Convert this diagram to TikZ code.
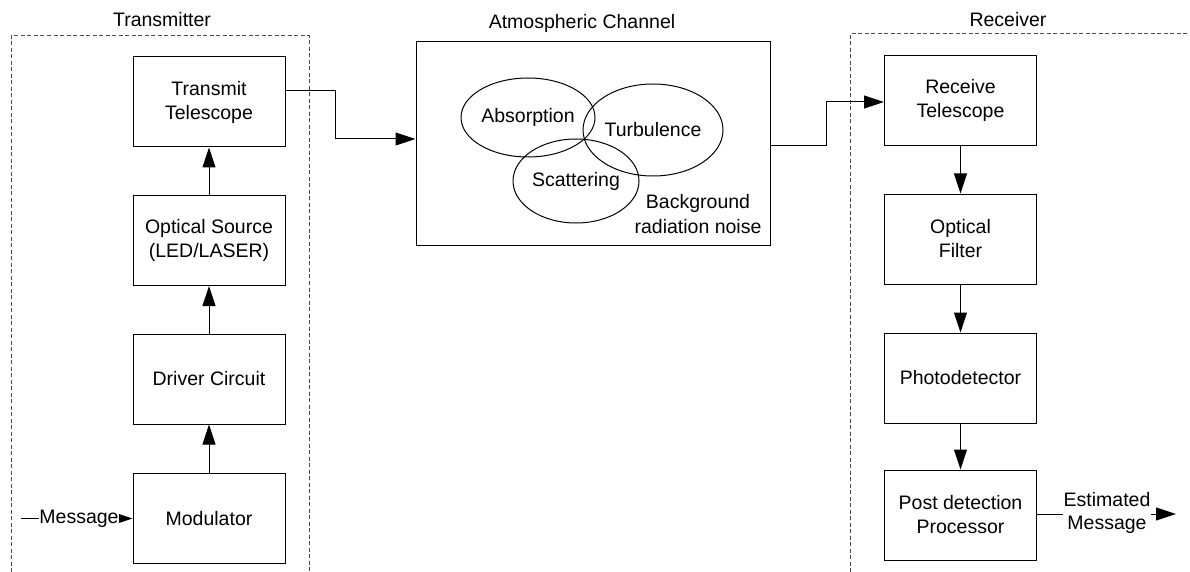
\documentclass[tikz,border=0pt]{standalone}
\usepackage{fontspec}
\setmainfont{Liberation Sans}
\usetikzlibrary{arrows.meta,shapes.geometric}
\begin{document}
\begin{tikzpicture}[x=1pt,y=-1pt,
  every node/.style={font=\fontsize{19.5}{24}\selectfont},
  blk/.style={draw, line width=1pt, minimum width=152pt, minimum height=90pt, align=center, inner sep=0pt},
  ell/.style={draw, line width=1pt, ellipse, inner sep=0pt},
  grp/.style={draw=black!70, line width=1pt, dash pattern=on 4pt off 2.5pt},
  conn/.style={line width=1pt, -{Triangle[length=20pt,width=13pt]}},
  lbl/.style={anchor=base}]
\useasboundingbox (0,0) rectangle (1190,572);
% group frames
\draw[grp] (11,572) -- (11,36) -- (309,36) -- (309,572);
\draw[grp] (850,572) -- (850,34) -- (1190,34);
\node[lbl] (txl) at (162,27) {Transmitter};
\node[lbl] (chl) at (582,29) {Atmospheric Channel};
\node[lbl] (rxl) at (1008,27) {Receiver};
% transmitter
\node[blk] (ts) at (209,102) {Transmit\\Telescope};
\node[blk] (os) at (209,240.5) {Optical Source\\(LED/LASER)};
\node[blk] (dc) at (209,379) {Driver Circuit};
\node[blk] (md) at (209,518.5) {Modulator};
% channel
\node[draw, line width=1pt, minimum width=354pt, minimum height=203pt, inner sep=0pt] (ch) at (593,143.5) {};
\node[ell, minimum width=134pt, minimum height=79pt] (ab) at (528,117.5) {Absorption};
\node[ell, minimum width=140pt, minimum height=92pt] (tu) at (653,130) {Turbulence};
\node[ell, minimum width=126pt, minimum height=84pt] (sc) at (576,181) {Scattering};
\node[align=center, inner sep=0pt, font=\fontsize{19.5}{25}\selectfont] (bg) at (698,214) {Background\\radiation noise};
% receiver
\node[blk] (rt) at (960.5,100.5) {Receive\\Telescope};
\node[blk] (of) at (960.5,239) {Optical\\Filter};
\node[blk] (pd) at (960.5,378) {Photodetector};
\node[blk] (pp) at (960.5,515) {Post detection\\Processor};
% connectors
\draw[conn] (md.north) -- (dc.south);
\draw[conn] (dc.north) -- (os.south);
\draw[conn] (os.north) -- (ts.south);
\draw[conn] (ts.east |- 0,91) -- (335,91) -- (335,139) -- (ch.west |- 0,139);
\draw[conn] (ch.east |- 0,146) -- (826,146) -- (826,102) -- (rt.west |- 0,102);
\draw[conn] (rt.south) -- (of.north);
\draw[conn] (of.south) -- (pd.north);
\draw[conn] (pd.south) -- (pp.north);
\coordinate (msgin) at (21,518.5);
\coordinate (estout) at (1176,514);
\draw[conn] (msgin) -- (md.west);
\node[fill=white, inner sep=0.5pt] (msg) at (79,518.5) {Message};
\draw[conn] (pp.east |- 0,514) -- (estout);
\node[fill=white, align=center, inner sep=1pt, font=\fontsize{19.5}{23}\selectfont] (est) at (1107,512.5) {Estimated\\Message};
\end{tikzpicture}
\end{document}
